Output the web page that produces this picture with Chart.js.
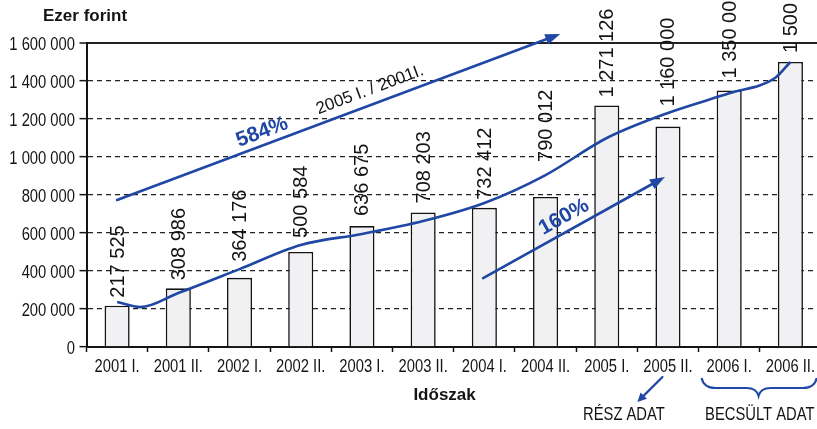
<!DOCTYPE html>
<html>
<head>
<meta charset="utf-8">
<script src="https://cdn.jsdelivr.net/npm/chart.js@4.4.1/dist/chart.umd.min.js"></script>
<style>
  html, body { margin: 0; padding: 0; background: #fff; overflow: hidden; width: 817px; height: 429px; }
  #wrap { width: 822px; height: 429px; }
</style>
</head>
<body>
<div id="wrap"><canvas id="c" width="822" height="429"></canvas></div>
<script>
// Half-year periods and amounts (thousand HUF)
const categories = ['2001 I.', '2001 II.', '2002 I.', '2002 II.', '2003 I.', '2003 II.',
                    '2004 I.', '2004 II.', '2005 I.', '2005 II.', '2006 I.', '2006 II.'];
const amounts = [217525, 308986, 364176, 500584, 636675, 708203,
                 732412, 790012, 1271126, 1160000, 1350000, 1500000];

// Hand-fitted trend curve (position on the period axis, value)
const trendX = [0, 0.38, 1, 2, 3, 4, 5, 6, 7, 8, 9, 10, 10.75, 11];
const trendY = [237000, 210000, 284000, 410000, 537000, 595000, 663000,
                758000, 905000, 1100000, 1232000, 1335000, 1416000, 1500000];

// Growth arrows: [x0, y0, x1, y1] in period index / value space
const growthArrowLong = [0, 774000, 7.24, 1647000];
const growthArrowShort = [5.98, 363000, 8.95, 895000];

const BLUE = '#1f47a3';
const INK = '#141414';
const SANS = '"Liberation Sans", Arial, sans-serif';
const CONDENSE = 0.82;   // horizontal squeeze for the narrow axis lettering

// extra space between each bar top and its rotated value label
const labelGap = [8, 8, 16, 14, 10, 9, 8, 35, 8, 20, 12, 9];

const fmt = v => String(v).replace(/\B(?=(\d{3})+(?!\d))/g, ' ');

function arrow(ctx, x0, y0, x1, y1, head, half, width) {
  const a = Math.atan2(y1 - y0, x1 - x0);
  const bx = x1 - Math.cos(a) * head, by = y1 - Math.sin(a) * head;
  ctx.save();
  ctx.strokeStyle = BLUE; ctx.fillStyle = BLUE;
  ctx.lineWidth = width; ctx.lineCap = 'round';
  ctx.beginPath(); ctx.moveTo(x0, y0); ctx.lineTo(bx, by); ctx.stroke();
  ctx.beginPath();
  ctx.moveTo(x1, y1);
  ctx.lineTo(bx + Math.sin(a) * half, by - Math.cos(a) * half);
  ctx.lineTo(bx - Math.sin(a) * half, by + Math.cos(a) * half);
  ctx.closePath(); ctx.fill();
  ctx.restore();
}

function rotText(ctx, text, x, y, angle, font, color) {
  ctx.save();
  ctx.translate(x, y); ctx.rotate(angle);
  ctx.font = font; ctx.fillStyle = color;
  ctx.textAlign = 'center'; ctx.textBaseline = 'middle';
  ctx.fillText(text, 0, 0);
  ctx.restore();
}

function narrowText(ctx, text, x, y, align) {
  ctx.save();
  ctx.translate(x, y);
  ctx.scale(CONDENSE, 1);
  ctx.textAlign = align;
  ctx.fillText(text, 0, 0);
  ctx.restore();
}

const decorations = {
  id: 'decorations',
  afterDraw(chart) {
    const ctx = chart.ctx;
    const xs = chart.scales.xt, ys = chart.scales.y, xc = chart.scales.x;
    const px = v => xs.getPixelForValue(v), py = v => ys.getPixelForValue(v);
    const area = chart.chartArea;
    const base = area.bottom;

    // axis tick labels in narrow lettering
    ctx.save();
    ctx.fillStyle = INK;
    ctx.font = '18px ' + SANS;
    ctx.textBaseline = 'alphabetic';
    ys.ticks.forEach(t => {
      narrowText(ctx, fmt(t.value), area.left - 11.5, ys.getPixelForValue(t.value) + 6.5, 'right');
    });
    categories.forEach((c, i) => {
      narrowText(ctx, c, xc.getPixelForValue(i), base + 24.5, 'center');
    });
    ctx.restore();

    // rotated value labels above bars
    const bars = chart.getDatasetMeta(0).data;
    ctx.save();
    ctx.font = '20px ' + SANS;
    ctx.fillStyle = INK;
    ctx.textAlign = 'left'; ctx.textBaseline = 'middle';
    bars.forEach((b, i) => {
      ctx.save();
      ctx.translate(b.x + 1, b.y - labelGap[i]);
      ctx.rotate(-Math.PI / 2);
      ctx.fillText(fmt(amounts[i]), 0, 0);
      ctx.restore();
    });
    ctx.restore();

    // long growth arrow with its labels
    const L = growthArrowLong;
    const l0x = px(L[0]), l0y = py(L[1]), l1x = px(L[2]), l1y = py(L[3]);
    arrow(ctx, l0x, l0y, l1x, l1y, 15, 5.5, 2.6);
    const aL = Math.atan2(l1y - l0y, l1x - l0x);
    rotText(ctx, '584%', px(2.37), py(1131000), aL, 'bold 21px ' + SANS, BLUE);
    rotText(ctx, '2005 I. / 2001I.', px(4.13), py(1353000), aL, '17px ' + SANS, INK);

    // short growth arrow with its label
    const S = growthArrowShort;
    const s0x = px(S[0]), s0y = py(S[1]), s1x = px(S[2]), s1y = py(S[3]);
    arrow(ctx, s0x, s0y, s1x, s1y, 15, 5.5, 2.6);
    const aS = Math.atan2(s1y - s0y, s1x - s0x);
    rotText(ctx, '160%', px(7.3), py(684000), aS, 'bold 21px ' + SANS, BLUE);

    // notes under the period axis
    arrow(ctx, px(8.91), base + 30, px(8.5), base + 55, 9, 4.5, 2.2);
    ctx.save();
    ctx.fillStyle = INK;
    ctx.font = '18px ' + SANS;
    ctx.textBaseline = 'alphabetic';
    narrowText(ctx, 'RÉSZ ADAT', px(8.28), base + 73, 'center');
    narrowText(ctx, 'BECSÜLT ADAT', px(10.5), base + 73, 'center');
    ctx.font = 'bold 17px ' + SANS;
    ctx.textAlign = 'center'; ctx.textBaseline = 'middle';
    ctx.fillText('Időszak', px(5.35), base + 48);
    ctx.textAlign = 'left';
    ctx.fillText('Ezer forint', 43, 16);
    ctx.restore();

    // brace over the estimated periods
    const bl = px(9.55), br = px(11.43), bm = px(10.48);
    const t = base + 31, m = base + 41, tip = base + 49;
    ctx.save();
    ctx.strokeStyle = BLUE; ctx.lineWidth = 2;
    ctx.beginPath();
    ctx.moveTo(bl, t);
    ctx.quadraticCurveTo(bl + 2, m, bl + 14, m);
    ctx.lineTo(bm - 12, m);
    ctx.quadraticCurveTo(bm - 2, m, bm, tip);
    ctx.quadraticCurveTo(bm + 2, m, bm + 12, m);
    ctx.lineTo(br - 14, m);
    ctx.quadraticCurveTo(br - 2, m, br, t);
    ctx.stroke();
    ctx.restore();
  }
};

new Chart(document.getElementById('c'), {
  type: 'bar',
  data: {
    labels: categories,
    datasets: [
      {
        type: 'bar',
        xAxisID: 'x',
        data: amounts,
        backgroundColor: '#f1f1f4',
        borderColor: INK,
        borderWidth: 1.6,
        grouped: false,
        categoryPercentage: 1,
        barPercentage: 0.41,
        order: 2
      },
      {
        type: 'line',
        xAxisID: 'xt',
        data: trendX.map((x, i) => ({ x, y: trendY[i] })),
        borderColor: BLUE,
        borderWidth: 2.6,
        pointRadius: 0,
        cubicInterpolationMode: 'monotone',
        fill: false,
        order: 1
      }
    ]
  },
  options: {
    responsive: false,
    animation: false,
    devicePixelRatio: 1,
    layout: { padding: { top: 43, right: 1, left: 0, bottom: 0 } },
    plugins: { legend: { display: false }, tooltip: { enabled: false } },
    scales: {
      x: {
        type: 'category',
        offset: true,
        grid: { offset: true, drawOnChartArea: false, drawTicks: true, tickLength: 5, tickColor: INK, tickWidth: 1.5 },
        border: { color: INK, width: 2 },
        ticks: { display: false, autoSkip: false },
        afterFit: s => { s.height = 82; }
      },
      xt: {
        type: 'linear',
        display: false,
        min: -0.5,
        max: 11.5,
        offset: false
      },
      y: {
        min: 0,
        max: 1600000,
        grid: {
          color: '#222',
          lineWidth: c => (c.tick && c.tick.value === 1600000) ? 2 : 1.3,
          tickLength: 7,
          tickColor: INK,
          tickWidth: 1.5,
          tickBorderDash: []
        },
        border: {
          color: INK,
          width: 2,
          dash: c => (c.tick && c.tick.value === 1600000) ? [] : [5, 4]
        },
        ticks: { display: false, stepSize: 200000 },
        afterFit: s => { s.width = 86.5; }
      }
    }
  },
  plugins: [decorations]
});
</script>
</body>
</html>
